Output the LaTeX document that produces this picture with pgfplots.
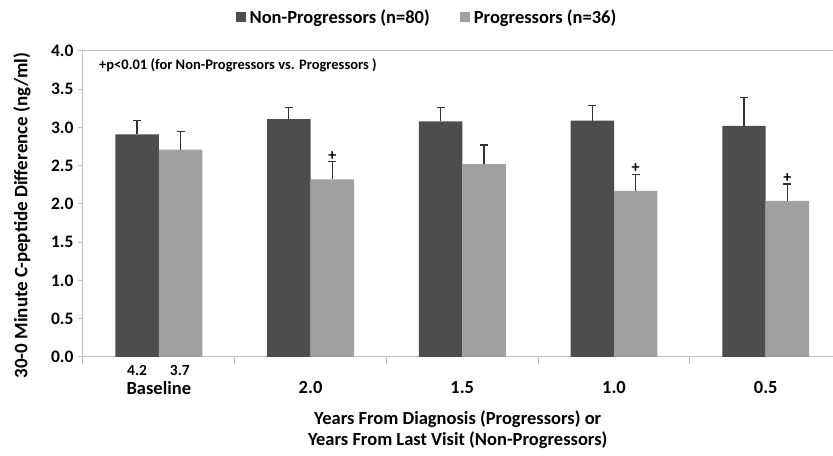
\documentclass[border=0pt]{standalone}
\usepackage{pgfplots}
\pgfplotsset{compat=1.18}
\usepackage{fontspec}
\setmainfont{Carlito}
\definecolor{darkbar}{RGB}{77,77,77}
\definecolor{lightbar}{RGB}{160,160,160}
\definecolor{axisgray}{RGB}{190,190,190}
\definecolor{errcol}{RGB}{50,50,50}

\pgfplotstableread{
x y e
0 2.91 0.18
1 3.11 0.15
2 3.08 0.18
3 3.09 0.20
4 3.02 0.37
}\nonprog
\pgfplotstableread{
x y e
0 2.71 0.24
1 2.32 0.23
2 2.52 0.25
3 2.17 0.21
4 2.04 0.22
}\prog

\begin{document}
\begin{tikzpicture}
\begin{axis}[
  scale only axis, width=750pt, height=306pt,
  xmin=-0.5, xmax=4.44, ymin=0, ymax=4,
  ybar=0pt, bar width=43.5pt,
  axis x line*=bottom, axis y line*=left,
  axis line style={axisgray, line width=1pt},
  /pgf/number format/assume math mode=true,
  tick align=outside,
  ytick={0,0.5,...,4},
  yticklabel={\pgfmathprintnumber[fixed,fixed zerofill,precision=1]{\tick}},
  yticklabel style={font=\bfseries\fontsize{17.5}{19}\selectfont, xshift=-1pt},
  ytick style={axisgray, line width=1pt},
  major tick length=5pt,
  xtick={0,1,2,3,4},
  xticklabels={Baseline,2.0,1.5,1.0,0.5},
  xticklabel style={font=\bfseries\fontsize{18.5}{20}\selectfont, yshift=-16pt},
  x tick style={draw=none},
  extra x ticks={-0.5,0.5,1.5,2.5,3.5},
  extra x tick labels={},
  extra x tick style={x tick style={draw=axisgray, line width=1pt}, major tick length=7pt},
  xlabel={Years From Diagnosis (Progressors) or\\Years From Last Visit (Non-Progressors)},
  xlabel style={font=\bfseries\fontsize{18.5}{21}\selectfont, align=center, at={(axis description cs:0.5,-0.2386)}, anchor=center},
  ylabel={30-0 Minute C-peptide Difference (ng/ml)},
  ylabel style={font=\bfseries\fontsize{19}{21}\selectfont, at={(axis description cs:-0.0813,0.462)}, anchor=center, rotate=0},
  legend style={at={(axis description cs:0.459,1.111)}, anchor=center, draw=none, fill=none,
    font=\bfseries\fontsize{18.5}{20}\selectfont, legend columns=2,
    /tikz/every odd column/.append style={column sep=2pt},
    /tikz/every even column/.append style={column sep=28pt}},
  legend image code/.code={\fill[#1] (0pt,-5pt) rectangle (10pt,5pt);},
  clip=false,
]
\addplot+[fill=darkbar, draw=none, error bars/.cd, y dir=plus, y explicit,
  error bar style={draw=errcol, line width=1.3pt},
  error mark options={draw=errcol, line width=1.3pt, mark size=4pt, rotate=90}]
  table[x=x, y=y, y error=e] {\nonprog};
\addlegendentry{Non-Progressors (n=80)}
\addplot+[fill=lightbar, draw=none, error bars/.cd, y dir=plus, y explicit,
  error bar style={draw=errcol, line width=1.3pt},
  error mark options={draw=errcol, line width=1.3pt, mark size=4pt, rotate=90}]
  table[x=x, y=y, y error=e] {\prog};
\addlegendentry{Progressors (n=36)}
\draw[axisgray, line width=1pt] (axis cs:-0.5,4) -- (axis cs:4.44,4);
\node[anchor=west, font=\bfseries\fontsize{14.5}{16}\selectfont] at (axis description cs:0.017,0.954) {+p<0.01 (for Non-Progressors vs. Progressors )};
\node[anchor=south, font=\bfseries\fontsize{16}{16}\selectfont, inner sep=1pt] at (axis cs:1.143,2.55) {+};
\node[anchor=south, font=\bfseries\fontsize{16}{16}\selectfont, inner sep=1pt] at (axis cs:3.143,2.39) {+};
\node[anchor=south, font=\bfseries\fontsize{16}{16}\selectfont, inner sep=1pt] at (axis cs:4.143,2.27) {+};
\node[anchor=center, font=\bfseries\fontsize{15.5}{17}\selectfont] at ([yshift=-14pt]axis cs:-0.143,0) {4.2};
\node[anchor=center, font=\bfseries\fontsize{15.5}{17}\selectfont] at ([yshift=-14pt]axis cs:0.139,0) {3.7};
\end{axis}
\path[use as bounding box] ([xshift=-83pt,yshift=-99pt]current axis.south west) rectangle ([yshift=51pt]current axis.north east);
\end{tikzpicture}
\end{document}
